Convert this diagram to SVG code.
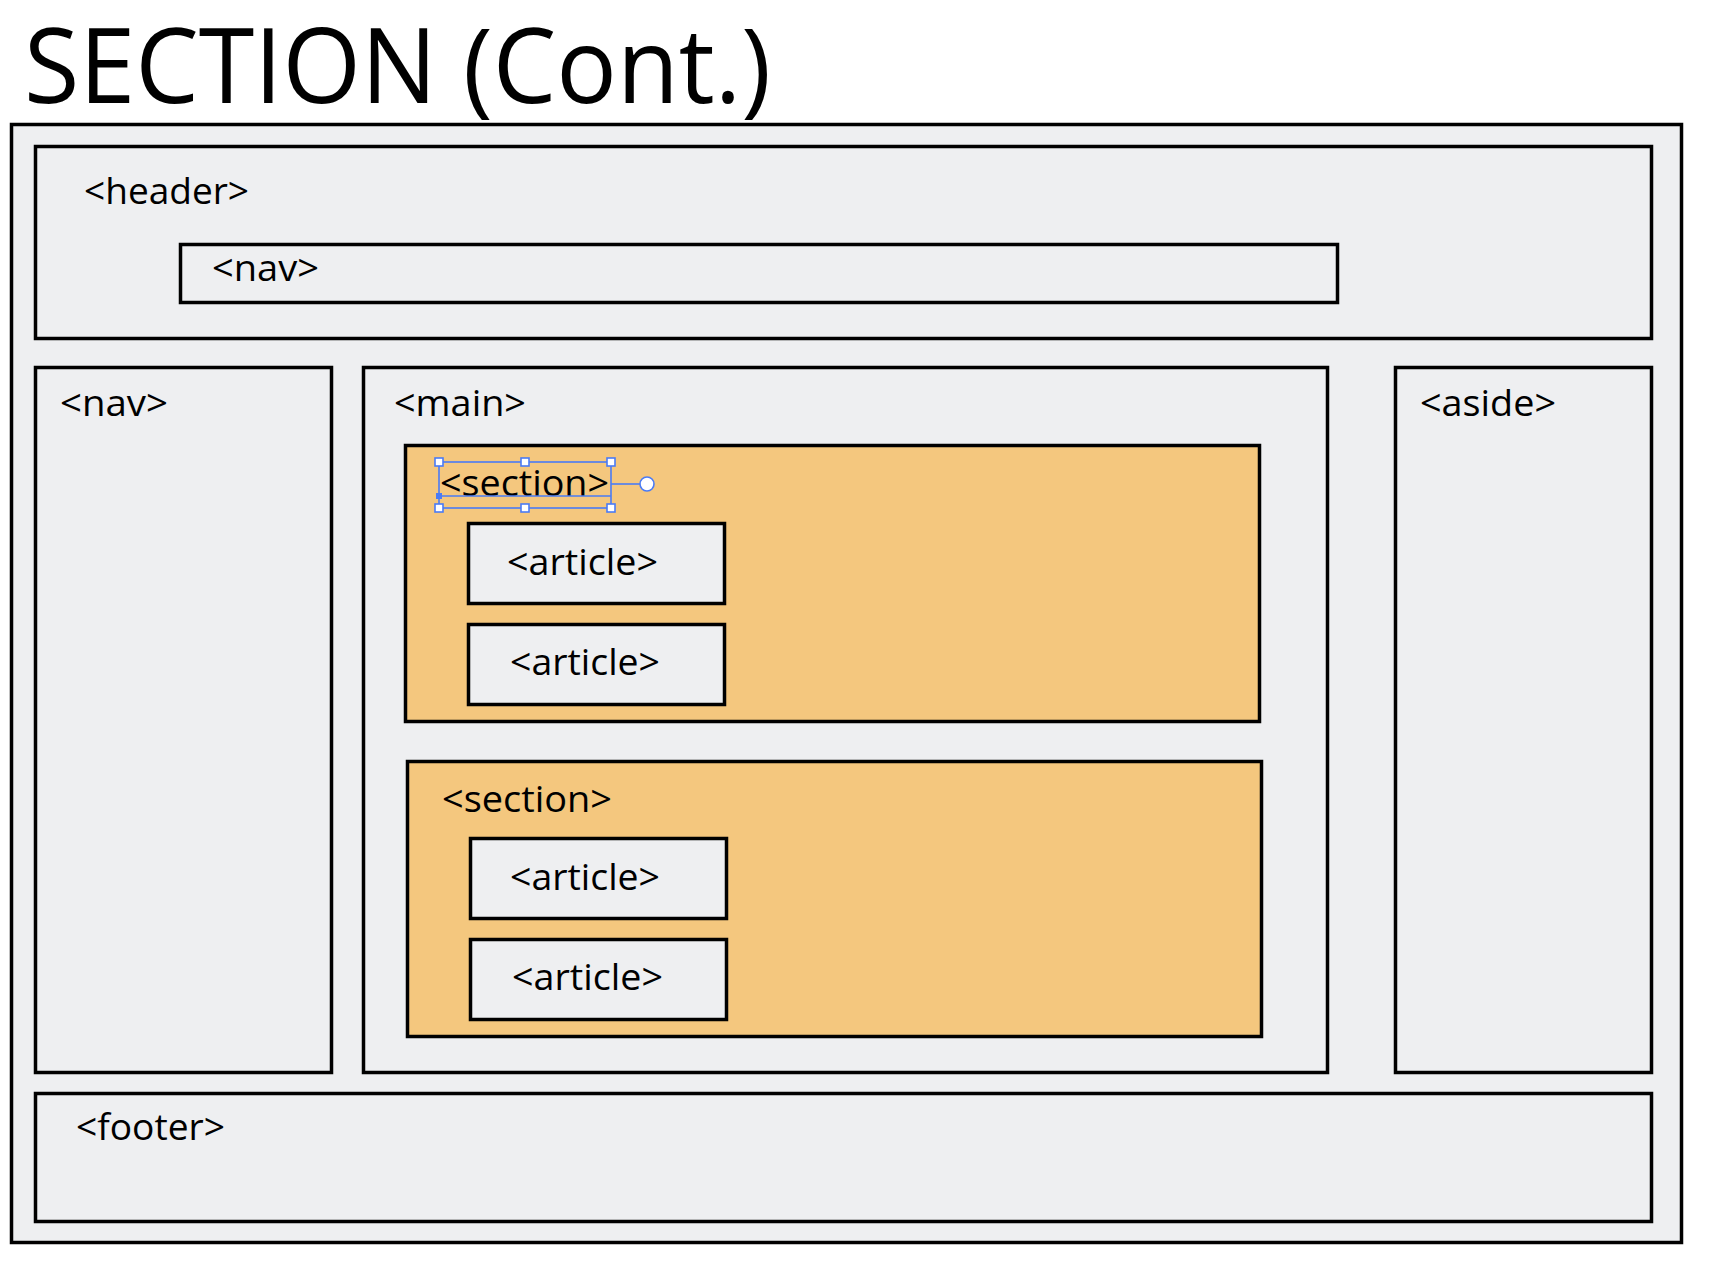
<svg xmlns="http://www.w3.org/2000/svg" width="1712" height="1261" viewBox="0 0 1712 1261">
<style>
.box{fill:#EEEFF1;stroke:#000;stroke-width:3.5}
.sec{fill:#F4C77E;stroke:#000;stroke-width:3.5}
.lbl{font-family:"Open Sans","Noto Sans",sans-serif;font-size:37px;fill:#000}
.title{font-family:"Open Sans","Noto Sans",sans-serif;font-size:104px;fill:#000}
.sel{fill:none;stroke:#4A7BF5;stroke-width:1.6}
.h{fill:#fff;stroke:#4A7BF5;stroke-width:1.6}
</style>
<rect width="1712" height="1261" fill="#fff"/>
<text class="title" x="24" y="103" textLength="747" lengthAdjust="spacingAndGlyphs">SECTION (Cont.)</text>
<g id="page"><rect class="box" x="11.5" y="124.5" width="1670" height="1118"/></g>
<g id="header">
<rect class="box" x="35.5" y="146.5" width="1616" height="192"/>
<text class="lbl" x="84" y="204" textLength="165" lengthAdjust="spacingAndGlyphs">&lt;header&gt;</text>
</g>
<g id="header-nav">
<rect class="box" x="180.5" y="244.5" width="1157" height="58"/>
<text class="lbl" x="212" y="281" textLength="107" lengthAdjust="spacingAndGlyphs">&lt;nav&gt;</text>
</g>
<g id="nav">
<rect class="box" x="35.5" y="367.5" width="296" height="705"/>
<text class="lbl" x="60" y="416" textLength="108" lengthAdjust="spacingAndGlyphs">&lt;nav&gt;</text>
</g>
<g id="main">
<rect class="box" x="363.5" y="367.5" width="964" height="705"/>
<text class="lbl" x="394" y="416" textLength="132" lengthAdjust="spacingAndGlyphs">&lt;main&gt;</text>
</g>
<g id="aside">
<rect class="box" x="1395.5" y="367.5" width="256" height="705"/>
<text class="lbl" x="1420" y="416" textLength="136" lengthAdjust="spacingAndGlyphs">&lt;aside&gt;</text>
</g>
<g id="section1">
<rect class="sec" x="405.5" y="445.5" width="854" height="276"/>
<text class="lbl" x="440" y="496" textLength="169" lengthAdjust="spacingAndGlyphs">&lt;section&gt;</text>
</g>
<g id="selection">
<rect class="sel" x="439" y="462" width="172" height="46"/>
<line class="sel" x1="439" y1="496" x2="611" y2="496"/>
<line class="sel" x1="611" y1="484" x2="640" y2="484"/>
<circle class="h" cx="647" cy="484" r="7"/>
<rect class="h" x="435" y="458" width="8" height="8"/>
<rect class="h" x="521" y="458" width="8" height="8"/>
<rect class="h" x="607" y="458" width="8" height="8"/>
<rect class="h" x="435" y="504" width="8" height="8"/>
<rect class="h" x="521" y="504" width="8" height="8"/>
<rect class="h" x="607" y="504" width="8" height="8"/>
<rect x="436" y="493" width="6" height="6" fill="#4A7BF5"/>
</g>
<g id="article1">
<rect class="box" x="468.5" y="523.5" width="256" height="80"/>
<text class="lbl" x="507" y="575" textLength="151" lengthAdjust="spacingAndGlyphs">&lt;article&gt;</text>
</g>
<g id="article2">
<rect class="box" x="468.5" y="624.5" width="256" height="80"/>
<text class="lbl" x="510" y="675" textLength="150" lengthAdjust="spacingAndGlyphs">&lt;article&gt;</text>
</g>
<g id="section2">
<rect class="sec" x="407.5" y="761.5" width="854" height="275"/>
<text class="lbl" x="442" y="812" textLength="170" lengthAdjust="spacingAndGlyphs">&lt;section&gt;</text>
</g>
<g id="article3">
<rect class="box" x="470.5" y="838.5" width="256" height="80"/>
<text class="lbl" x="510" y="890" textLength="150" lengthAdjust="spacingAndGlyphs">&lt;article&gt;</text>
</g>
<g id="article4">
<rect class="box" x="470.5" y="939.5" width="256" height="80"/>
<text class="lbl" x="512" y="990" textLength="151" lengthAdjust="spacingAndGlyphs">&lt;article&gt;</text>
</g>
<g id="footer">
<rect class="box" x="35.5" y="1093.5" width="1616" height="128"/>
<text class="lbl" x="76" y="1140" textLength="149" lengthAdjust="spacingAndGlyphs">&lt;footer&gt;</text>
</g>
<g id="connectors"></g>
</svg>
